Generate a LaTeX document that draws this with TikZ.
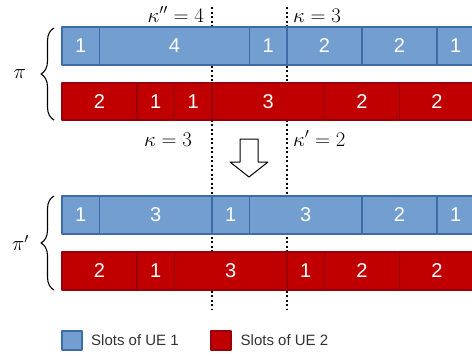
\documentclass[tikz,border=0pt]{standalone}
\usepackage{fontspec}
\newfontfamily\slotfont{Liberation Sans}
\usetikzlibrary{decorations.pathreplacing}
\definecolor{ueblue}{RGB}{114,159,207}
\definecolor{ueblueline}{RGB}{62,108,168}
\definecolor{uered}{RGB}{192,0,0}
\definecolor{ueredline}{RGB}{150,0,10}
\begin{document}
\begin{tikzpicture}[x=1pt,y=-1pt,line join=round]
				\tikzset{ueone/.style={fill=ueblue,draw=ueblueline,line width=1.3pt},
					uetwo/.style={fill=uered,draw=ueredline,line width=1.3pt},
					slot/.style={text=white,font=\slotfont\fontsize{20}{24}\selectfont,inner sep=0pt},
					kap/.style={font=\fontsize{21}{25}\selectfont,inner sep=0pt},
					cut/.style={line width=1.3pt,dash pattern=on 2pt off 2.5pt}}
				\useasboundingbox (0,0) rectangle (472,356);
				% cut lines behind the slots
				\draw[cut] (212,7)--(212,309);
				\draw[cut] (287,7)--(287,309);
				\begin{scope}[shift={(62,0)},x=37.5pt]
					\foreach \s/\e/\n [count=\i] in {0/1/1,1/5/4,5/6/1,6/8/2,8/10/2,10/11/1}
					{\draw[ueone] (\s,27) rectangle (\e,65);
					 \node[slot] (a\i) at ({(\s+\e)/2},46) {\n};}
					\foreach \s/\e/\n [count=\i] in {0/2/2,2/3/1,3/4/1,4/7/3,7/9/2,9/11/2}
					{\draw[uetwo] (\s,83) rectangle (\e,120);
					 \node[slot] (b\i) at ({(\s+\e)/2},101.5) {\n};}
					\foreach \s/\e/\n [count=\i] in {0/1/1,1/4/3,4/5/1,5/8/3,8/10/2,10/11/1}
					{\draw[ueone] (\s,196) rectangle (\e,234);
					 \node[slot] (c\i) at ({(\s+\e)/2},215) {\n};}
					\foreach \s/\e/\n [count=\i] in {0/2/2,2/3/1,3/6/3,6/7/1,7/9/2,9/11/2}
					{\draw[uetwo] (\s,252) rectangle (\e,290);
					 \node[slot] (d\i) at ({(\s+\e)/2},271) {\n};}
				\end{scope}
				% labels of the cuts
				\node[kap,anchor=base east] (kaptl) at (204,22) {$\kappa''=4$};
				\node[kap,anchor=base west] (kaptr) at (293,22) {$\kappa=3$};
				\node[kap,anchor=base east] (kapbl) at (192,146) {$\kappa=3$};
				\node[kap,anchor=base west] (kapbr) at (293,146) {$\kappa'=2$};
				% braces
				\draw[line width=1.1pt,decorate,decoration={brace,amplitude=13pt}] (54,120)--(54,28);
				\draw[line width=1.1pt,decorate,decoration={brace,amplitude=13pt}] (54,290)--(54,196);
				\node[kap,anchor=east] (pi) at (26,74) {$\pi$};
				\node[kap,anchor=east] (pip) at (29,243) {$\pi'$};
				% arrow
				\draw[line width=1pt,fill=white] (240,139)--(258,139)--(258,162)--(268,162)--(249,177)--(230,162)--(240,162)--cycle;
				% legend
				\draw[ueone] (62,331) rectangle (82,350);
				\draw[uetwo] (211,331) rectangle (231,350);
				\node[anchor=west,inner sep=0pt,text=black!80,font=\slotfont\fontsize{15}{18}\selectfont] (legone) at (91,340.5) {Slots of UE 1};
				\node[anchor=west,inner sep=0pt,text=black!80,font=\slotfont\fontsize{15}{18}\selectfont] (legtwo) at (240.5,340.5) {Slots of UE 2};
			\end{tikzpicture}
\end{document}
